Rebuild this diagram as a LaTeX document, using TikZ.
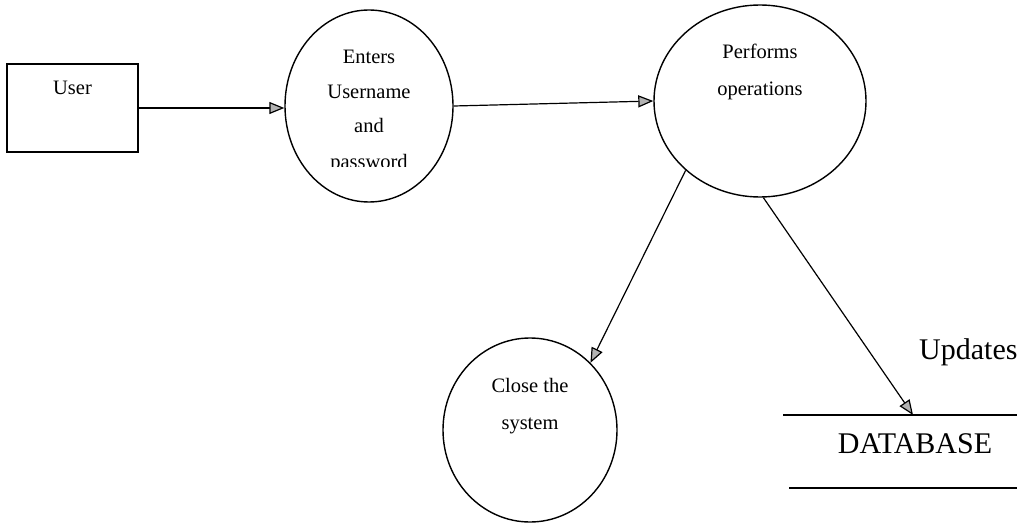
\documentclass[tikz,border=0pt]{standalone}
\usepackage{fontspec}
\setmainfont{Liberation Serif}
\usetikzlibrary{shapes.geometric,arrows.meta}
\tikzset{
  proc/.style={ellipse, draw, line width=1.4pt, inner sep=0pt},
  entity/.style={rectangle, draw, line width=1.4pt, minimum width=131pt, minimum height=88pt},
  flow/.style={line width=1.2pt, -{Triangle[length=15pt,width=12pt,fill=gray!60]}},
  small/.style={font=\fontsize{20.5}{36}\selectfont, align=center, inner sep=0pt},
  big/.style={font=\fontsize{30}{36}\selectfont, inner sep=0pt}
}
\begin{document}
\begin{tikzpicture}[x=1pt, y=-1pt]
  \useasboundingbox (0,0) rectangle (1017,524);
  % User
  \node[entity] (user) at (72.5,108) {};
  \node[small, anchor=base] (usertxt) at (72.5,95) {User};
  % Processes
  \node[proc, minimum width=168pt, minimum height=192pt] (p1) at (369,106) {};
  \node[proc, minimum width=212pt, minimum height=192pt] (p2) at (760,101) {};
  \node[proc, minimum width=174pt, minimum height=184pt] (p3) at (530,430) {};
  \node[small, anchor=base] (p1txt) at (369,133) {Enters\\[-1pt]Username\\[-1pt]and};
  \begin{scope}
    \clip (300,140) rectangle (440,166);
    \node[small, anchor=base] (pwtxt) at (369,168.5) {password};
  \end{scope}
  \node[small, anchor=base] (p2txt) at (760,96) {Performs\\[1pt]operations};
  \node[small, anchor=base] (p3txt) at (530,429) {Close the\\[1pt]system};
  % Database
  \coordinate (dbin) at (913,415);
  \draw[line width=1.3pt] (783,415) -- (1017,415);
  \draw[line width=1.3pt] (789,488) -- (1017,488);
  \node[big, anchor=base] (db) at (915,453) {DATABASE};
  \node[big, anchor=base west] (upd) at (919,359) {Updates};
  % Flows
  \draw[flow] (user.east) -- (user.east -| p1.west);
  \draw[flow] (p1.east) -- (p2.west);
  \draw[flow] (p2.-137) -- (p3.48);
  \draw[flow] (p2.-88) -- (dbin);
\end{tikzpicture}
\end{document}
